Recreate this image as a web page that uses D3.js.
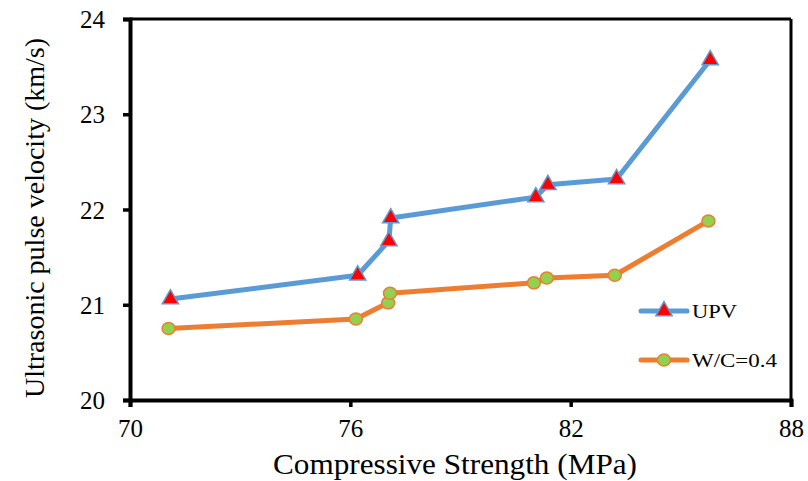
<!DOCTYPE html>
<html><head><meta charset="utf-8">
<script src="https://cdn.jsdelivr.net/npm/d3@7"></script>
<style>body{margin:0;background:#fff}svg{display:block}text{font-family:"Liberation Serif","Times New Roman",serif;fill:#000}</style>
</head><body>
<script>
const strength = [71.1, 76.2, 77.05, 77.1, 81.05, 81.38, 83.25, 85.8];
const strengthWC = [71.05, 76.15, 77.03, 77.08, 81.0, 81.35, 83.2, 85.75];
const upv = [21.06, 21.31, 21.67, 21.91, 22.13, 22.26, 22.32, 23.57];
const wc04 = [20.75, 20.85, 21.02, 21.12, 21.23, 21.28, 21.31, 21.88];
const xTicks = [70, 76, 82, 88];
const yTicks = [20, 21, 22, 23, 24];
const seriesNames = ["UPV", "W/C=0.4"];

const W = 808, H = 481;
const svg = d3.select("body").append("svg").attr("width", W).attr("height", H);
const x = d3.scaleLinear().domain([70, 88]).range([130, 791]);
const y = d3.scaleLinear().domain([20, 24]).range([400, 19]);

// frame top/right
svg.append("line").attr("x1", x(70)).attr("x2", x(88)).attr("y1", y(24)).attr("y2", y(24)).attr("stroke", "#000").attr("stroke-width", 3);
svg.append("line").attr("x1", x(88)).attr("x2", x(88)).attr("y1", y(24)).attr("y2", y(20)).attr("stroke", "#000").attr("stroke-width", 3);

const xAxis = svg.append("g").attr("transform", `translate(0,${y(20)})`)
  .call(d3.axisBottom(x).tickValues(xTicks).tickSize(7).tickPadding(12).tickFormat(d3.format("d")));
const yAxis = svg.append("g").attr("transform", `translate(${x(70)},0)`)
  .call(d3.axisLeft(y).tickValues(yTicks).tickSize(7).tickPadding(18).tickFormat(d3.format("d")));
[xAxis, yAxis].forEach(g => {
  g.select(".domain").attr("stroke", "#000").attr("stroke-width", 4);
  g.selectAll(".tick line").attr("stroke", "#000").attr("stroke-width", 3.5);
  g.selectAll(".tick text").style("font-family", "Liberation Serif").style("font-size", "25px").attr("fill", "#000");
});
yAxis.selectAll(".tick text").attr("dy", "0.34em");

svg.append("text").attr("x", 455).attr("y", 474).attr("text-anchor", "middle").style("font-size", "29px")
  .attr("textLength", 364).attr("lengthAdjust", "spacingAndGlyphs").text("Compressive Strength (MPa)");
svg.append("text").attr("transform", `translate(44,218) rotate(-90)`).attr("text-anchor", "middle").style("font-size", "28px").text("Ultrasonic pulse velocity (km/s)");

const line = d3.line().x(d => x(d[0])).y(d => y(d[1]));
const d1 = strength.map((s, i) => [s, upv[i]]);
const d2 = strengthWC.map((s, i) => [s, wc04[i]]);
const blue = "#5B9BD5", orange = "#ED7D31";
svg.append("path").attr("d", line(d2)).attr("fill", "none").attr("stroke", orange).attr("stroke-width", 5).attr("stroke-linejoin", "round").attr("stroke-linecap", "round");
svg.append("path").attr("d", line(d1)).attr("fill", "none").attr("stroke", blue).attr("stroke-width", 5).attr("stroke-linejoin", "round").attr("stroke-linecap", "round");

const tri = d3.symbol().type(d3.symbolTriangle).size(115);
function triMark(g, cx, cy) {
  g.append("path").attr("d", tri()).attr("transform", `translate(${cx},${cy})`).attr("fill", "#FF0000").attr("stroke", blue).attr("stroke-width", 1.5);
}
function circMark(g, cx, cy) {
  g.append("ellipse").attr("cx", cx).attr("cy", cy).attr("rx", 6.5).attr("ry", 6).attr("fill", "#92D050").attr("stroke", orange).attr("stroke-width", 1.5);
}
d2.forEach(d => circMark(svg, x(d[0]), y(d[1])));
d1.forEach(d => triMark(svg, x(d[0]), y(d[1])));

// legend
const leg = [[seriesNames[0], blue, 311, triMark, 45], [seriesNames[1], orange, 360, circMark, 85]];
leg.forEach(([name, col, ly, mk, tl]) => {
  svg.append("line").attr("x1", 641).attr("x2", 687).attr("y1", ly).attr("y2", ly).attr("stroke", col).attr("stroke-width", 5).attr("stroke-linecap", "round");
  mk(svg, 664, ly);
  svg.append("text").attr("x", 692).attr("y", ly + 7).style("font-size", "19px")
    .attr("textLength", tl).attr("lengthAdjust", "spacingAndGlyphs").text(name);
});
</script>
</body></html>
